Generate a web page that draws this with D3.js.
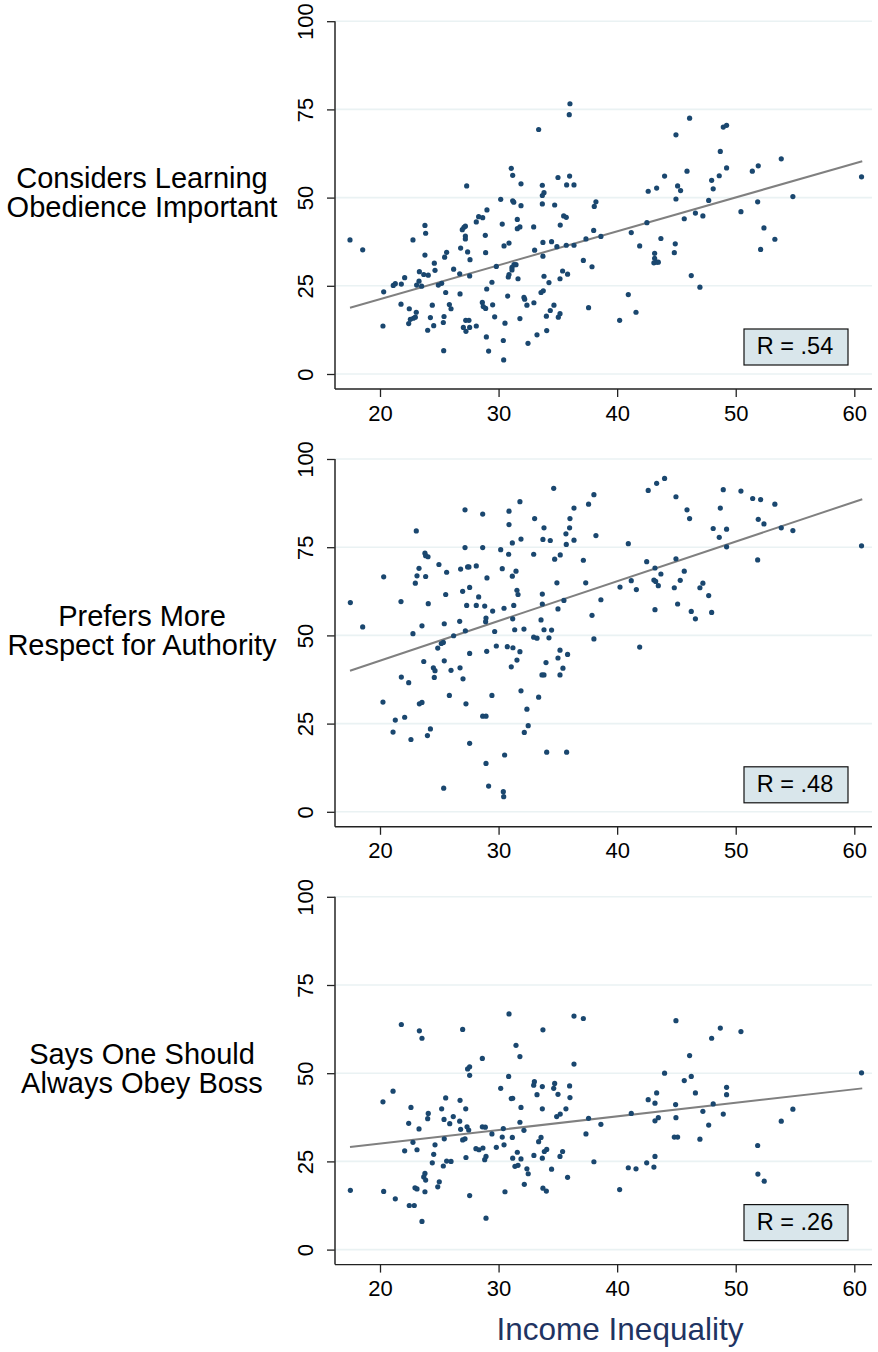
<!DOCTYPE html>
<html>
<head>
<meta charset="utf-8">
<script src="https://cdn.jsdelivr.net/npm/d3@7"></script>
<style>
  body { margin: 0; background: #fff; }
  text { font-family: 'Liberation Sans', Arial, Helvetica, sans-serif; }
</style>
</head>
<body>
<div id="chart"></div>
<script>
// Data
var xTicks = [20, 30, 40, 50, 60],
    yTicks = [0, 25, 50, 75, 100];

var panelLabels = [
  ["Considers Learning", "Obedience Important"],
  ["Prefers More", "Respect for Authority"],
  ["Says One Should", "Always Obey Boss"]
];
var rValues = [".54", ".48", ".26"];
var xTitle = "Income Inequality";

// fitted line: y at the smallest and largest inequality value
var fitRange = [17.47, 60.67];
var fitEnds = [[18.8, 60.3], [40.0, 88.6], [29.1, 45.7]];

var obediencePoints = [
  [17.47,38.0],[18.54,35.2],[27.31,53.3],[29.02,46.5],[28.32,44.6],[28.66,44.3],[28.12,43.1],[23.79,42.1],[23.85,39.9],[22.78,38.0],
  [27.2,41.9],[27.08,41.6],[26.94,40.9],[27.2,39.1],[27.2,38.3],[28.88,39.3],[26.8,35.7],[27.39,34.6],[28.91,34.4],[27.59,32.4],
  [23.79,33.7],[25.62,34.5],[25.45,33.1],[24.58,31.4],[24.64,29.4],[26.21,29.7],[26.72,28.4],[27.56,27.8],[29.81,30.5],[23.32,29.0],
  [23.69,28.2],[24.07,28.0],[22.08,27.3],[21.8,25.5],[21.12,25.1],[21.29,25.6],[23.29,26.3],[23.09,25.2],[23.51,24.9],[24.92,25.2],
  [25.2,25.7],[20.31,23.3],[25.54,23.1],[26.75,22.7],[29.44,26.0],[29.0,24.1],[21.77,19.8],[22.47,18.5],[23.06,17.5],[24.41,19.5],
  [25.85,19.7],[25.99,18.5],[28.63,20.3],[28.71,19.1],[28.91,18.6],[29.5,19.6],[22.98,16.1],[22.81,15.8],[22.56,15.5],[22.42,14.3],
  [20.25,13.6],[24.25,16.0],[24.02,12.4],[24.53,13.7],[25.4,16.3],[25.34,14.6],[27.23,15.2],[27.5,15.2],[27.03,13.2],[27.25,12.1],
  [27.56,13.2],[28.12,13.6],[29.67,16.2],[28.97,10.5],[25.37,6.6],[29.16,6.5],
  [36.02,76.6],[35.96,73.5],[33.38,69.3],[31.07,58.3],[31.19,56.3],[31.89,53.9],[33.69,53.5],[35.01,55.7],[35.99,56.1],[35.74,53.6],
  [36.36,53.6],[33.83,51.4],[33.69,50.6],[30.18,49.5],[31.19,49.1],[31.28,48.7],[31.89,47.7],[33.69,48.2],[34.73,47.9],[38.21,48.8],
  [38.07,47.5],[42.62,51.8],[43.33,52.7],[44.0,56.1],[30.31,42.5],[31.58,43.8],[31.58,41.2],[31.8,41.7],[32.96,41.7],[35.49,44.8],
  [35.71,44.4],[35.2,42.2],[38.02,40.7],[38.63,39.0],[41.19,40.1],[42.51,42.9],[43.69,38.4],[41.9,36.3],[43.16,34.2],[43.16,32.8],
  [43.1,31.5],[43.33,31.7],[43.47,31.7],[30.46,36.3],[30.88,37.1],[33.04,35.1],[33.74,37.3],[33.74,33.4],[34.47,37.5],[34.92,36.1],
  [35.71,36.5],[36.36,36.5],[37.37,38.3],[31.13,30.2],[31.3,31.0],[31.47,31.0],[31.13,29.5],[30.88,28.2],[30.82,27.5],[31.64,27.0],
  [33.83,27.7],[34.25,25.9],[35.4,29.2],[35.82,28.3],[35.18,27.0],[37.15,32.2],[37.88,30.4],[30.77,22.1],[32.14,21.7],[32.2,21.2],
  [32.39,19.5],[32.98,20.2],[33.58,23.1],[33.77,23.6],[34.67,19.5],[34.36,18.0],[34.03,16.4],[35.18,17.1],[35.04,16.1],[37.59,18.8],
  [40.94,22.5],[41.59,17.5],[40.21,15.2],[30.54,14.4],[31.8,15.7],[30.4,9.5],[30.43,4.0],[32.48,8.7],[33.24,11.1],[34.06,12.3],
  [46.11,72.5],[44.96,67.8],[48.95,70.0],[49.23,70.5],[48.7,63.1],[45.89,57.5],[49.23,58.4],[48.61,56.2],[47.97,54.9],[48.1,52.5],
  [45.1,53.3],[45.35,52.0],[44.96,49.6],[47.72,49.2],[51.4,57.5],[51.9,59.0],[53.84,61.0],[54.82,50.3],[51.85,48.8],[60.61,55.9],
  [50.44,46.0],[46.6,45.6],[47.23,44.8],[45.66,44.0],[44.9,36.9],[44.82,34.4],[52.38,41.4],[53.3,38.2],[52.1,35.3],[46.25,27.9],
  [46.98,24.6]
];

var respectPoints = [
  [27.17,85.6],[28.66,84.4],[23.06,79.6],[27.17,74.9],[28.66,74.9],[23.79,73.3],[23.85,72.6],[24.05,72.3],[23.29,69.0],[24.97,70.1],
  [25.62,67.9],[26.8,68.8],[27.39,69.4],[27.5,69.4],[28.12,69.7],[23.12,66.9],[23.85,66.7],[20.31,66.6],[22.98,64.8],[29.02,66.3],
  [27.56,63.6],[26.97,62.5],[25.54,61.6],[28.32,60.9],[17.5,59.3],[21.77,59.6],[24.07,59.0],[27.31,58.5],[28.12,58.5],[28.83,58.3],
  [29.5,56.9],[18.54,52.4],[23.54,52.7],[25.42,53.3],[26.72,54.0],[28.94,54.9],[28.91,53.9],[22.78,50.5],[27.2,51.3],[29.67,51.1],
  [26.21,49.9],[25.34,48.0],[25.17,47.7],[24.87,46.4],[29.81,47.0],[27.56,44.9],[29.0,45.5],[23.69,42.6],[25.42,42.8],[24.5,40.8],
  [24.64,40.0],[25.99,40.1],[26.75,40.8],[27.0,37.7],[21.8,38.2],[24.58,38.1],[22.42,36.6],[25.85,33.0],[29.44,33.0],[20.25,31.1],
  [23.32,30.6],[23.54,31.0],[27.25,30.6],[21.29,26.0],[22.08,26.8],[28.66,27.1],[28.94,27.1],[21.1,22.6],[24.25,23.5],[24.0,21.6],
  [22.61,20.5],[27.56,19.4],[28.94,13.7],[29.16,7.3],[25.37,6.7],
  [34.65,91.7],[44.0,94.5],[43.33,93.1],[42.62,91.1],[31.8,87.9],[30.88,85.2],[30.88,81.4],[33.04,83.1],[33.83,80.5],[33.74,77.2],
  [34.36,76.9],[31.89,77.3],[31.16,76.2],[30.18,74.3],[30.85,73.0],[32.96,73.0],[34.73,71.6],[35.2,72.8],[35.71,75.8],[35.68,78.8],
  [35.99,80.5],[36.02,83.1],[36.36,86.1],[36.36,77.0],[37.59,87.2],[38.04,89.9],[38.21,78.3],[37.15,71.3],[40.94,76.0],[42.49,70.9],
  [43.19,69.1],[43.1,65.7],[43.25,65.3],[43.47,64.1],[43.69,67.4],[30.31,68.9],[31.16,66.8],[31.47,68.2],[31.55,62.8],[31.64,61.6],
  [33.69,61.7],[33.69,58.9],[34.92,64.9],[35.51,59.9],[35.01,57.5],[37.35,64.9],[38.63,60.1],[40.24,63.7],[41.19,65.5],[41.62,63.0],
  [43.19,57.3],[30.46,57.7],[31.28,58.5],[31.19,54.7],[31.36,51.6],[32.14,51.8],[33.58,54.4],[32.96,49.5],[33.24,49.2],[33.83,51.6],
  [34.47,51.5],[34.25,49.3],[37.88,55.7],[38.04,49.0],[41.9,46.7],[30.74,46.8],[31.21,46.5],[31.8,45.4],[31.55,43.0],[31.07,41.1],
  [35.18,45.8],[35.01,43.6],[35.82,44.6],[34.0,42.3],[35.43,40.7],[33.66,38.8],[33.83,38.8],[35.18,38.8],[31.89,34.3],[33.38,32.5],
  [32.39,29.1],[32.5,24.4],[32.17,22.5],[30.51,16.1],[34.06,16.9],[35.74,16.9],[30.4,5.7],[30.43,4.3],
  [44.96,89.3],[45.89,85.6],[46.11,83.1],[48.95,91.3],[50.44,90.9],[51.43,88.8],[52.1,88.5],[53.3,87.2],[48.7,86.1],[51.9,82.9],
  [52.38,81.6],[53.84,80.5],[54.82,79.7],[48.1,80.3],[49.23,80.1],[48.61,77.8],[49.23,75.1],[60.61,75.4],[51.85,71.4],[44.96,71.7],
  [45.66,68.2],[45.32,65.6],[44.82,63.5],[46.98,63.5],[47.23,64.8],[47.72,61.3],[45.1,58.9],[46.25,56.8],[46.6,54.7],[47.97,56.5]
];

var obeyBossPoints = [
  [21.8,63.8],[23.32,62.0],[23.54,59.9],[26.97,62.4],[28.63,54.2],[27.39,51.2],[27.56,51.8],[27.56,49.4],[21.1,44.9],[20.25,41.9],
  [22.61,40.3],[25.54,43.0],[26.75,42.3],[25.2,39.9],[27.23,39.9],[24.07,38.6],[24.02,37.1],[25.4,36.9],[26.18,37.7],[25.88,35.7],
  [26.72,36.4],[22.42,35.8],[23.29,34.2],[27.34,34.8],[27.48,33.9],[26.8,34.1],[28.63,34.8],[28.88,34.7],[29.44,32.8],[27.17,31.4],
  [26.97,31.1],[25.42,31.4],[22.78,30.4],[24.64,29.7],[22.08,28.0],[23.12,28.3],[28.09,28.6],[28.35,28.3],[28.68,28.8],[29.81,29.0],
  [28.94,26.4],[28.83,25.5],[24.53,27.0],[24.41,24.6],[25.62,25.1],[25.99,25.0],[25.34,23.7],[27.25,26.1],[23.79,21.6],[23.69,20.6],
  [23.85,19.7],[25.0,19.2],[24.87,17.8],[17.5,16.8],[20.31,16.5],[22.95,17.5],[23.12,17.2],[23.79,16.4],[21.29,14.4],[22.47,12.5],
  [22.89,12.5],[27.56,15.3],[28.94,8.9],[23.54,8.0],
  [30.88,66.8],[36.36,66.2],[37.15,65.5],[33.74,62.3],[31.47,57.9],[31.8,54.7],[36.36,52.6],[44.0,50.0],[30.85,49.1],[30.18,45.7],
  [33.02,47.6],[32.96,46.6],[33.69,46.2],[34.73,47.1],[34.65,45.7],[35.99,46.4],[33.24,43.9],[35.01,44.0],[36.02,43.1],[31.07,42.8],
  [31.19,42.9],[31.89,40.3],[33.69,39.9],[35.68,39.9],[35.2,38.4],[34.9,37.7],[37.59,37.2],[38.63,35.5],[41.19,38.6],[42.62,42.5],
  [43.33,44.4],[43.19,41.5],[43.47,37.4],[43.19,36.5],[31.8,36.1],[30.4,34.3],[32.14,33.8],[30.31,31.9],[31.16,31.8],[33.58,31.8],
  [33.38,30.6],[37.37,32.8],[30.46,29.7],[31.58,27.6],[31.19,25.9],[31.89,25.7],[31.38,23.6],[31.64,23.9],[32.98,26.7],[33.69,25.9],
  [33.86,27.8],[34.06,28.4],[35.4,27.8],[35.18,26.4],[32.39,22.9],[32.5,21.5],[34.47,22.8],[35.82,20.5],[32.17,18.5],[30.54,16.4],
  [33.74,17.4],[34.03,16.6],[38.04,24.9],[40.94,23.2],[41.59,22.9],[42.49,24.6],[43.1,23.4],[43.19,26.4],[40.21,17.0],
  [44.96,64.9],[48.7,62.8],[47.97,59.9],[50.44,61.8],[46.11,55.0],[60.61,50.1],[45.66,47.9],[46.25,49.1],[46.6,44.4],[49.23,46.0],
  [49.23,43.9],[44.93,41.1],[48.1,41.3],[47.23,39.2],[48.95,38.4],[44.96,37.4],[54.82,39.8],[53.84,36.4],[47.72,35.3],[44.82,31.9],
  [45.1,31.9],[46.98,31.3],[51.85,29.5],[51.87,21.4],[52.4,19.4]
];

var panels = [obediencePoints, respectPoints, obeyBossPoints];

// Layout
var width = 878, height = 1352;
var plotLeft = 335, plotRight = 872,
    panelTop = 21.2, panelZero = 374, panelStep = 437.8,
    axisGap = 15;

var dotColor = "#1a476f", gridColor = "#eaf2f3", fitColor = "#808080",
    boxFill = "#d9e6eb", titleColor = "#1f3462";

var svg = d3.select("#chart").append("svg")
    .attr("width", width)
    .attr("height", height);

var x = d3.scaleLinear().domain([20, 60]).range([380, 854.3]);

panels.forEach(function(points, i) {
  var off = i * panelStep;
  var y = d3.scaleLinear().domain([0, 100]).range([panelZero + off, panelTop + off]);
  var axisY = y(0) + axisGap;

  var g = svg.append("g").attr("class", "panel");

  // grid lines
  g.selectAll(".grid")
      .data(yTicks)
    .enter().append("line")
      .attr("class", "grid")
      .attr("x1", plotLeft).attr("x2", plotRight)
      .attr("y1", function(d) { return y(d); })
      .attr("y2", function(d) { return y(d); })
      .style("stroke", gridColor)
      .style("stroke-width", 1.6);

  // y axis
  var yAxis = d3.axisLeft(y).tickValues(yTicks).tickSize(8).tickPadding(0);
  var ya = g.append("g")
      .attr("transform", "translate(" + plotLeft + ",0)")
      .call(yAxis);
  ya.select(".domain").remove();
  ya.selectAll(".tick line").style("stroke", "#222").style("stroke-width", 1.3);
  ya.selectAll(".tick text")
      .attr("x", null).attr("dy", null)
      .attr("transform", "translate(-22,0) rotate(-90)")
      .attr("text-anchor", "middle")
      .style("font-size", "22px")
      .style("fill", "#000");

  // x axis
  var xAxis = d3.axisBottom(x).tickValues(xTicks).tickSize(8).tickPadding(8);
  var xa = g.append("g")
      .attr("transform", "translate(0," + axisY + ")")
      .call(xAxis);
  xa.select(".domain").remove();
  xa.selectAll(".tick line").style("stroke", "#222").style("stroke-width", 1.3);
  xa.selectAll(".tick text")
      .style("font-size", "22px")
      .style("fill", "#000");

  // axis lines
  g.append("line")
      .attr("x1", plotLeft).attr("x2", plotLeft)
      .attr("y1", y(100)).attr("y2", axisY)
      .style("stroke", "#333").style("stroke-width", 1.6);
  g.append("line")
      .attr("x1", plotLeft).attr("x2", plotRight)
      .attr("y1", axisY).attr("y2", axisY)
      .style("stroke", "#222").style("stroke-width", 1.4);

  // fitted line
  g.append("line")
      .attr("x1", x(fitRange[0])).attr("y1", y(fitEnds[i][0]))
      .attr("x2", x(fitRange[1])).attr("y2", y(fitEnds[i][1]))
      .style("stroke", fitColor)
      .style("stroke-width", 2);

  // dots
  g.selectAll(".dot")
      .data(points)
    .enter().append("circle")
      .attr("class", "dot")
      .attr("cx", function(d) { return x(d[0]); })
      .attr("cy", function(d) { return y(d[1]); })
      .attr("r", 2.6)
      .style("fill", dotColor);

  // R box
  var bw = 104, bh = 36, bx = 848 - bw, by = y(0) - 9 - bh;
  g.append("rect")
      .attr("x", bx).attr("y", by)
      .attr("width", bw).attr("height", bh)
      .style("fill", boxFill)
      .style("stroke", "#111")
      .style("stroke-width", 1.2);
  g.append("text")
      .attr("x", bx + bw / 2 - 1)
      .attr("y", by + 25)
      .attr("text-anchor", "middle")
      .style("font-size", "23.5px")
      .text("R = " + rValues[i]);

  // row label
  var lab = g.append("text")
      .attr("text-anchor", "middle")
      .style("font-size", "29px");
  panelLabels[i].forEach(function(t, j) {
    lab.append("tspan")
        .attr("x", 142)
        .attr("y", y(50) - 9.4 + j * 29)
        .text(t);
  });
});

// x axis title
svg.append("text")
    .attr("x", 620)
    .attr("y", 1340)
    .attr("text-anchor", "middle")
    .style("font-size", "31.5px")
    .style("fill", titleColor)
    .text(xTitle);
</script>
</body>
</html>
